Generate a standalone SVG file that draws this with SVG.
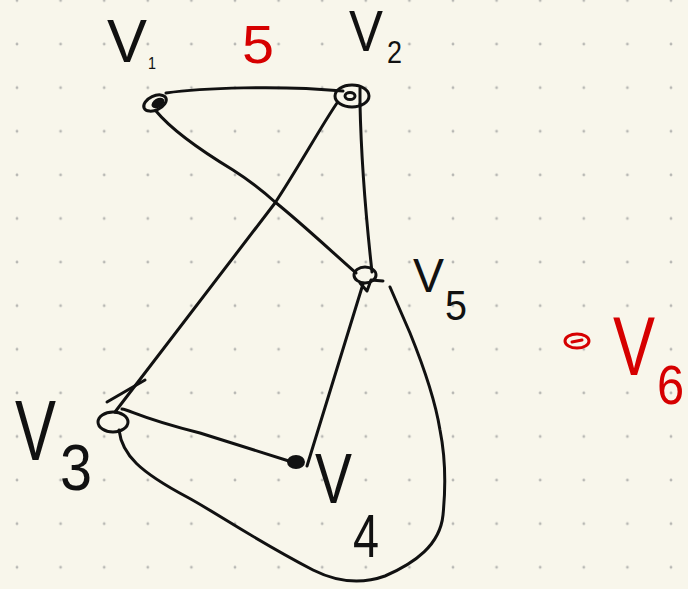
<svg xmlns="http://www.w3.org/2000/svg" width="688" height="589" viewBox="0 0 688 589">
<defs>
<pattern id="dots" x="-4.8" y="-21.3" width="43.6" height="43.6" patternUnits="userSpaceOnUse">
<circle cx="21.8" cy="21.8" r="1.4" fill="#b8b8b4"/>
</pattern>
<style>
.ink{fill:none;stroke:#111;stroke-width:3;stroke-linecap:round;stroke-linejoin:round}
.red{fill:none;stroke:#d60000;stroke-width:3;stroke-linecap:round;stroke-linejoin:round}
.lbl{font-family:"Liberation Sans",Arial,sans-serif;fill:#111}
.rlbl{font-family:"Liberation Sans",Arial,sans-serif;fill:#d60000}
</style>
</defs>
<rect width="688" height="589" fill="#f8f6eb"/>
<rect width="688" height="589" fill="url(#dots)"/>

<g id="edges">
<path class="ink" d="M166,93 C200,88 280,85 343,91"/>
<path class="ink" d="M156,111 C170,128 200,150 233,170 C255,184 265,193 275,202 C300,222 330,250 356,273"/>
<path class="ink" d="M337,103 C320,128 300,165 275,203 L115,412"/>
<path class="ink" d="M360,104 C361,150 364,200 372,272"/>
<path class="ink" d="M363,284 L307,466"/>
<path class="ink" d="M122,409 C130,410 140,418 200,433 L292,462"/>
<path class="ink" d="M119,430 C122,455 140,472 187,497 C215,512 250,537 313,570 C335,581 360,585 385,576 C415,563 440,545 443,515 C446,485 445,455 440,430 C436,405 425,370 410,333 L390,287"/>
<text class="rlbl" x="242" y="63" font-size="54" textLength="32" lengthAdjust="spacingAndGlyphs">5</text>
</g>

<g id="v1">
<ellipse class="ink" cx="155" cy="103" rx="12" ry="7" transform="rotate(-25 155 103)"/>
<ellipse cx="158" cy="103" rx="7" ry="4.5" fill="#111" transform="rotate(-30 158 103)"/>
<text class="lbl" x="107" y="62" font-size="62" textLength="40" lengthAdjust="spacingAndGlyphs">V</text>
<text class="lbl" x="148" y="69" font-size="16" textLength="8" lengthAdjust="spacingAndGlyphs">1</text>
</g>

<g id="v2">
<ellipse class="ink" cx="352" cy="96" rx="17" ry="11"/>
<ellipse class="ink" cx="350" cy="96" rx="5" ry="3.5"/>
<path class="ink" d="M360,88 L360,104"/>
<text class="lbl" x="349" y="51" font-size="57" textLength="34" lengthAdjust="spacingAndGlyphs">V</text>
<text class="lbl" x="387" y="63" font-size="32" textLength="15" lengthAdjust="spacingAndGlyphs">2</text>
</g>

<g id="v3">
<ellipse class="ink" cx="113" cy="422" rx="15" ry="10"/>
<path class="ink" d="M107,402 L145,380"/>
<text class="lbl" transform="translate(15,460) scale(0.715,1)" font-size="86">V</text>
<text class="lbl" x="60" y="490" font-size="64" textLength="32" lengthAdjust="spacingAndGlyphs">3</text>
</g>

<g id="v4">
<ellipse cx="296" cy="462" rx="9" ry="7" fill="#111"/>
<text class="lbl" x="315" y="503" font-size="70" textLength="37" lengthAdjust="spacingAndGlyphs">V</text>
<text class="lbl" x="353" y="557" font-size="62" textLength="26" lengthAdjust="spacingAndGlyphs">4</text>
</g>

<g id="v5">
<ellipse class="ink" cx="365" cy="275" rx="11" ry="8"/>
<path class="ink" d="M360,283 L367,291 L371,280 L383,281"/>
<text class="lbl" x="413" y="292" font-size="49" textLength="31" lengthAdjust="spacingAndGlyphs">V</text>
<text class="lbl" x="445" y="320" font-size="42" textLength="22" lengthAdjust="spacingAndGlyphs">5</text>
</g>

<g id="v6">
<ellipse class="red" cx="577" cy="341" rx="12" ry="7"/>
<path class="red" d="M572,342 L582,340" stroke-width="2"/>
<text class="rlbl" transform="translate(613,375) scale(0.75,1)" font-size="84">V</text>
<text class="rlbl" transform="translate(657,404) scale(0.87,1)" font-size="56">6</text>
</g>
</svg>
